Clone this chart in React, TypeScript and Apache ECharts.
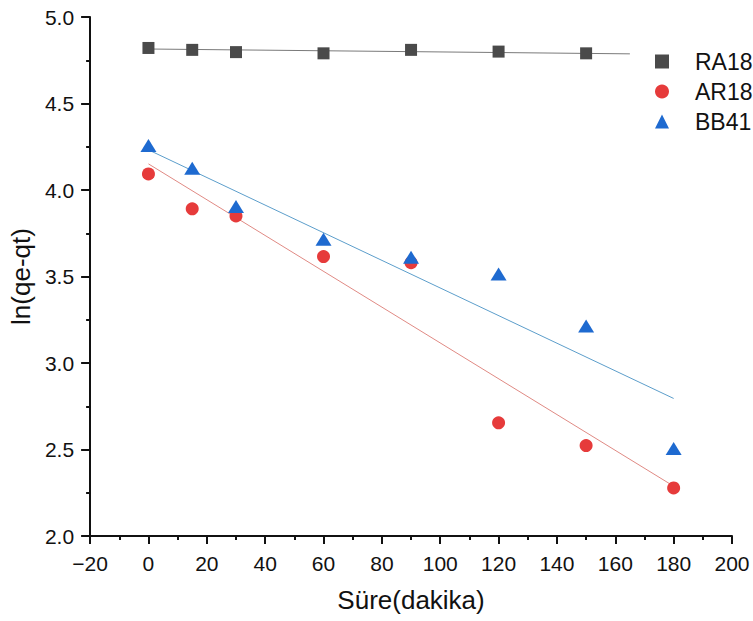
import React, { useEffect, useRef } from "react";
import * as echarts from "echarts";

const times = [0, 15, 30, 60, 90, 120, 150, 180];
const ra18Times = [0, 15, 30, 60, 90, 120, 150];
const ra18 = [4.821, 4.81, 4.797, 4.79, 4.81, 4.8, 4.79];
const ar18 = [4.093, 3.891, 3.85, 3.615, 3.58, 2.654, 2.523, 2.278];
const bb41 = [4.257, 4.126, 3.904, 3.715, 3.611, 3.514, 3.214, 2.506];

// fitted line endpoints: [x, y]
const ra18Fit = [[0, 4.815], [165, 4.787]];
const ar18Fit = [[0, 4.151], [180, 2.288]];
const bb41Fit = [[0, 4.232], [180, 2.795]];

const FONT = "Liberation Sans, Arial, sans-serif";

export default function App() {
  const ref = useRef<HTMLDivElement>(null);
  useEffect(() => {
    if (!ref.current) return;
    const chart = echarts.init(ref.current, null, { renderer: "svg" });
    const pair = (xs: number[], ys: number[]) => xs.map((x, i) => [x, ys[i]]);
    chart.setOption({
      animation: false,
      backgroundColor: "#ffffff",
      textStyle: { fontFamily: FONT },
      grid: { left: 88, right: 21, top: 17, bottom: 85, containLabel: false },
      legend: {
        data: ["RA18", "AR18", "BB41"],
        orient: "vertical",
        left: 650,
        top: 44,
        itemWidth: 14,
        itemHeight: 14,
        itemGap: 5,
        textStyle: { fontFamily: FONT, fontSize: 23, color: "#111", lineHeight: 25, padding: [0, 0, 0, 21] },
      },
      xAxis: {
        type: "value",
        min: -20,
        max: 200,
        interval: 20,
        name: "Süre(dakika)",
        nameLocation: "middle",
        nameGap: 51,
        nameTextStyle: { fontFamily: FONT, fontSize: 26, color: "#111" },
        axisLine: { show: true, onZero: false, lineStyle: { color: "#111", width: 2 } },
        axisTick: { show: true, inside: false, length: 8, lineStyle: { color: "#111", width: 2 } },
        minorTick: { show: true, splitNumber: 2, length: 4, lineStyle: { color: "#111", width: 2 } },
        splitLine: { show: false },
        axisLabel: {
          fontFamily: FONT,
          fontSize: 21,
          color: "#111",
          margin: 17,
          formatter: (v: number) => (v < 0 ? "\u2212" + Math.abs(v) : String(v)),
        },
      },
      yAxis: {
        type: "value",
        min: 2,
        max: 5,
        interval: 0.5,
        name: "ln(qe-qt)",
        nameLocation: "middle",
        nameGap: 55,
        nameTextStyle: { fontFamily: FONT, fontSize: 26, color: "#111" },
        axisLine: { show: true, onZero: false, lineStyle: { color: "#111", width: 2 } },
        axisTick: { show: true, inside: false, length: 9, lineStyle: { color: "#111", width: 2 } },
        minorTick: { show: true, splitNumber: 2, length: 4, lineStyle: { color: "#111", width: 2 } },
        splitLine: { show: false },
        axisLabel: {
          fontFamily: FONT,
          fontSize: 21,
          color: "#111",
          margin: 16,
          formatter: (v: number) => v.toFixed(1),
        },
      },
      series: [
        {
          name: "RA18 fit",
          type: "line",
          data: ra18Fit,
          symbol: "none",
          lineStyle: { color: "#7a7a7a", width: 1 },
          z: 1,
        },
        {
          name: "AR18 fit",
          type: "line",
          data: ar18Fit,
          symbol: "none",
          lineStyle: { color: "#e08a84", width: 1 },
          z: 1,
        },
        {
          name: "BB41 fit",
          type: "line",
          data: bb41Fit,
          symbol: "none",
          lineStyle: { color: "#5c9ecb", width: 1 },
          z: 1,
        },
        {
          name: "RA18",
          type: "scatter",
          data: pair(ra18Times, ra18),
          symbol: "rect",
          symbolSize: 12,
          itemStyle: { color: "#4a4a4a", opacity: 1 },
          z: 3,
        },
        {
          name: "AR18",
          type: "scatter",
          data: pair(times, ar18),
          symbol: "circle",
          symbolSize: 13,
          itemStyle: { color: "#e63b3b", opacity: 1 },
          z: 3,
        },
        {
          name: "BB41",
          type: "scatter",
          data: pair(times, bb41),
          symbol: "triangle",
          symbolSize: [16, 13],
          itemStyle: { color: "#1e6ad0", opacity: 1 },
          z: 4,
        },
      ],
    });
    return () => chart.dispose();
  }, []);
  return (
    <div
      ref={ref}
      style={{ position: "absolute", left: 0, top: 0, width: 753, height: 621 }}
    />
  );
}
